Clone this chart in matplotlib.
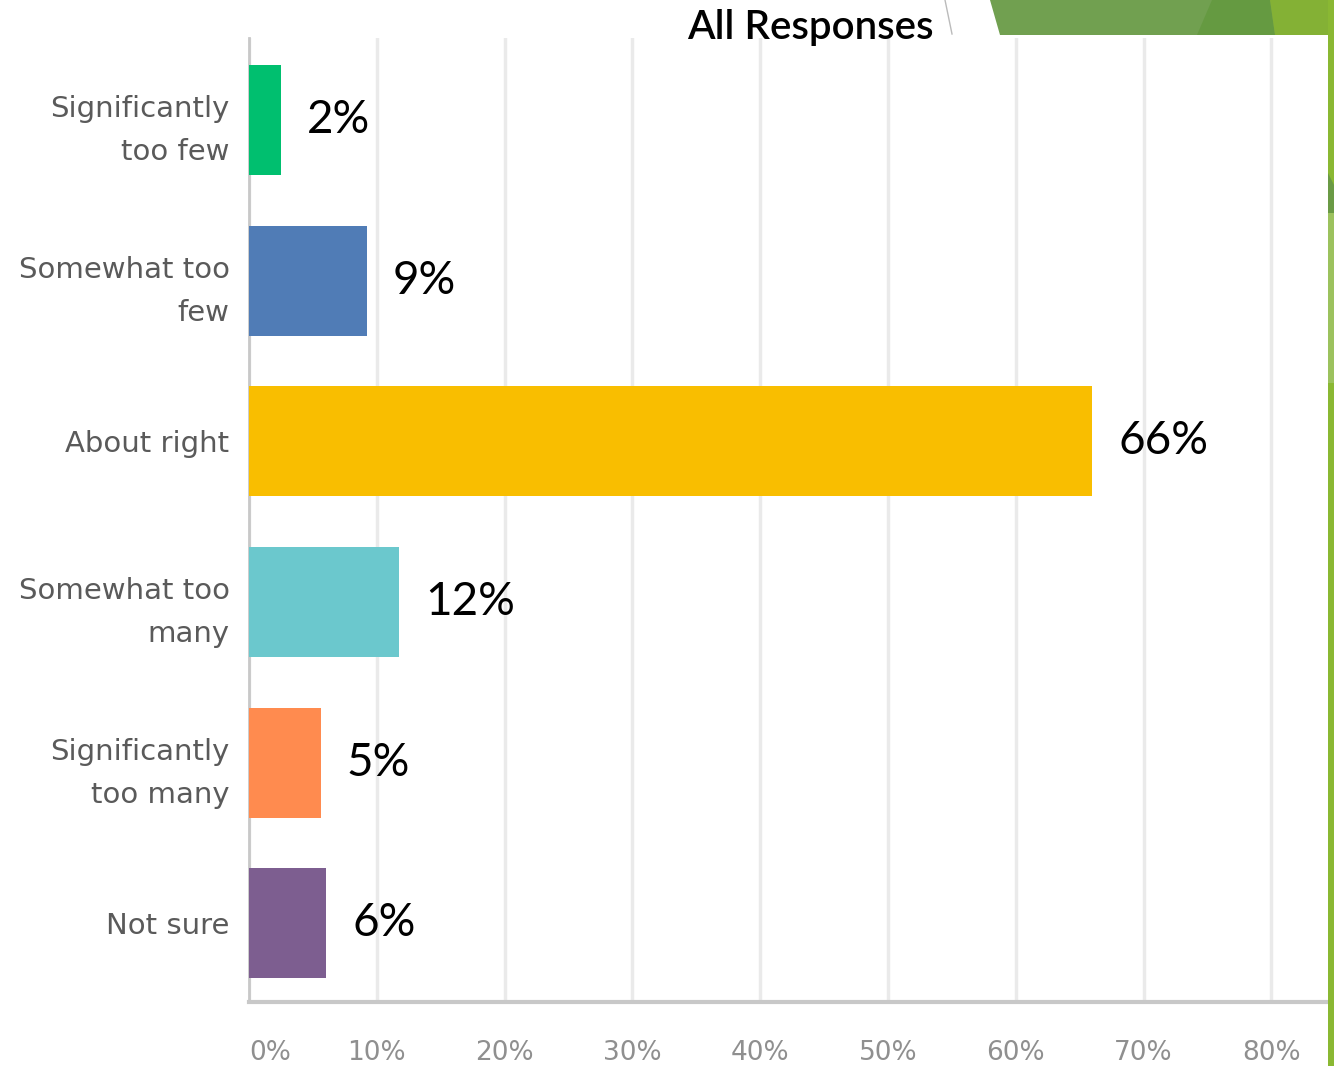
import matplotlib
matplotlib.use("Agg")
import matplotlib.pyplot as plt
from matplotlib.patches import Polygon
from matplotlib.lines import Line2D
from matplotlib.transforms import ScaledTranslation

# ---- data ----
categories = ["Significantly\ntoo few", "Somewhat too\nfew", "About right",
              "Somewhat too\nmany", "Significantly\ntoo many", "Not sure"]
values = [2.5, 9.2, 66.0, 11.7, 5.6, 6.0]
value_labels = ["2%", "9%", "66%", "12%", "5%", "6%"]
bar_colors = ["#00bf6f", "#507cb6", "#f9be00", "#6bc8cd", "#ff8b4f", "#7d5e90"]
xticks = [0, 10, 20, 30, 40, 50, 60, 70, 80]
xtick_labels = ["0%", "10%", "20%", "30%", "40%", "50%", "60%", "70%", "80%"]
title = "All Responses"

W, H = 1334, 1066
fig = plt.figure(figsize=(W / 100, H / 100), dpi=100)
fig.patch.set_facecolor("white")


def px(x, y):
    return (x / W, 1 - y / H)


# decorative slide shapes
def poly(pts, color):
    fig.patches.append(Polygon([px(*p) for p in pts], closed=True,
                               transform=fig.transFigure, facecolor=color,
                               edgecolor="none", zorder=0))


poly([(990, 0), (1334, 0), (1334, 35), (1000, 35)], "#71a050")
poly([(1212, 0), (1270, 0), (1275, 35), (1197, 35)], "#659a41")
poly([(1270, 0), (1334, 0), (1334, 35), (1275, 35)], "#84b135")
poly([(1328, 0), (1334, 0), (1334, 1066), (1328, 1066)], "#8ab833")
poly([(1328, 213), (1334, 213), (1334, 383), (1328, 383)], "#9cc25e")
poly([(1328, 173), (1334, 185), (1334, 213), (1328, 213)], "#6a9a45")
fig.lines.append(Line2D([945 / W, 952 / W], [1, 1 - 34 / H],
                        transform=fig.transFigure, color="#bbbbbb", lw=1))

ax = fig.add_axes([249 / W, (H - 1002) / H, (1326 - 249) / W, (1002 - 38) / H])
ypos = list(range(len(categories)))
ax.barh(ypos, values, height=0.685, color=bar_colors, zorder=3)
ax.set_xlim(0, (1326 - 249) / 12.78)
ax.set_ylim(5.49, -0.51)

ax.set_xticks(xticks)
ax.set_xticklabels(xtick_labels, fontsize=19, color="#8f8f8f", family="DejaVu Sans")
ax.get_xticklabels()[0].set_horizontalalignment("left")
ax.set_yticks(ypos)
ax.set_yticklabels(categories, fontsize=21, color="#5a5a5a", family="DejaVu Sans",
                   linespacing=1.7)
shift = ScaledTranslation(0, 5 / 100, fig.dpi_scale_trans)
for lab in ax.get_yticklabels():
    if "\n" in lab.get_text():
        lab.set_transform(lab.get_transform() + shift)
ax.tick_params(axis="x", length=0, pad=27)
ax.tick_params(axis="y", length=0, pad=14)
ax.grid(axis="x", color="#eaeaea", lw=2.5, zorder=0)
for s in ["top", "right"]:
    ax.spines[s].set_visible(False)
ax.spines["left"].set_color("#c8c8c8")
ax.spines["left"].set_linewidth(2)
ax.spines["bottom"].set_color("#c8c8c8")
ax.spines["bottom"].set_linewidth(3)

for y, v, lab in zip(ypos, values, value_labels):
    ax.annotate(lab, (v, y), xytext=(19, 0), textcoords="offset points",
                ha="left", va="center", fontsize=33, family="Lato", color="black")

fig.text(810 / W, 1 - 27 / H, title, ha="center", va="center", fontsize=29,
         family="Lato", fontweight="semibold", color="black")

fig.savefig("out.png", dpi=100, facecolor="white")
